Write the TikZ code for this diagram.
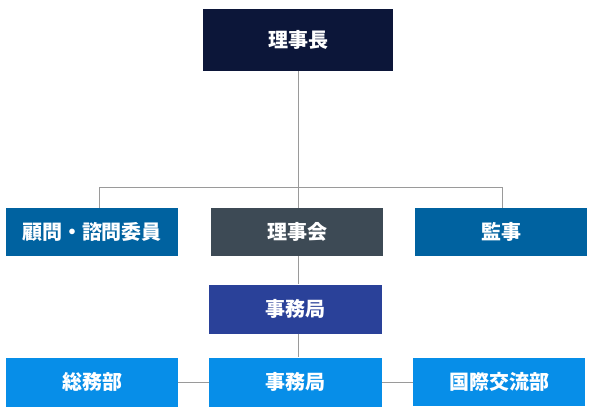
\documentclass[tikz,border=0pt]{standalone}
\usepackage{fontspec}
\newfontfamily\jpfont{Noto Sans CJK JP}
\usepackage{xcolor}
\definecolor{chairblue}{HTML}{0C1639}
\definecolor{boardgray}{HTML}{3D4A55}
\definecolor{sideblue}{HTML}{0062A0}
\definecolor{officeblue}{HTML}{2A4199}
\definecolor{deptblue}{HTML}{078EE8}
\definecolor{linkgray}{HTML}{9A9A9A}

\begin{document}
\begin{tikzpicture}[x=1pt, y=-1pt,
    unit/.style={rectangle, inner sep=0pt, text=white,
        font=\jpfont\bfseries\fontsize{20}{22}\selectfont,
        minimum width=172pt, minimum height=48pt},
    link/.style={linkgray, line width=1pt}]

    % 1. Fix the canvas
    \useasboundingbox (0,0) rectangle (592,416);

    % 2. Place the units
    \node[unit, fill=chairblue, minimum width=190pt, minimum height=62pt] (chair) at (298,40) {理事長};
    \node[unit, fill=sideblue] (advisor) at (92,232) {顧問・諮問委員};
    \node[unit, fill=boardgray] (board) at (297,232) {理事会};
    \node[unit, fill=sideblue] (auditor) at (501,232) {監事};
    \node[unit, fill=officeblue, minimum width=173pt, minimum height=49pt] (office) at (295.5,309) {事務局};
    \node[unit, fill=deptblue, minimum height=49pt] (general) at (92,382) {総務部};
    \node[unit, fill=deptblue, minimum width=173pt, minimum height=49pt] (secretariat) at (295.5,382) {事務局};
    \node[unit, fill=deptblue] (intl) at (499,382) {国際交流部};

    % 3. Branch points
    \coordinate (bl) at (99,187);
    \coordinate (br) at (502,187);

    % 4. Connect the units
    \draw[link] (chair.south) -- (chair.south |- board.north);
    \draw[link] (bl) -- (br);
    \draw[link] (bl) -- (bl |- advisor.north);
    \draw[link] (br) -- (br |- auditor.north);
    \draw[link] (chair.south |- board.south) -- (chair.south |- office.north);
    \draw[link] (chair.south |- office.south) -- (chair.south |- secretariat.north);
    \draw[link] (general.east) -- (secretariat.west);
    \draw[link] (secretariat.east) -- (intl.west);

\end{tikzpicture}
\end{document}
